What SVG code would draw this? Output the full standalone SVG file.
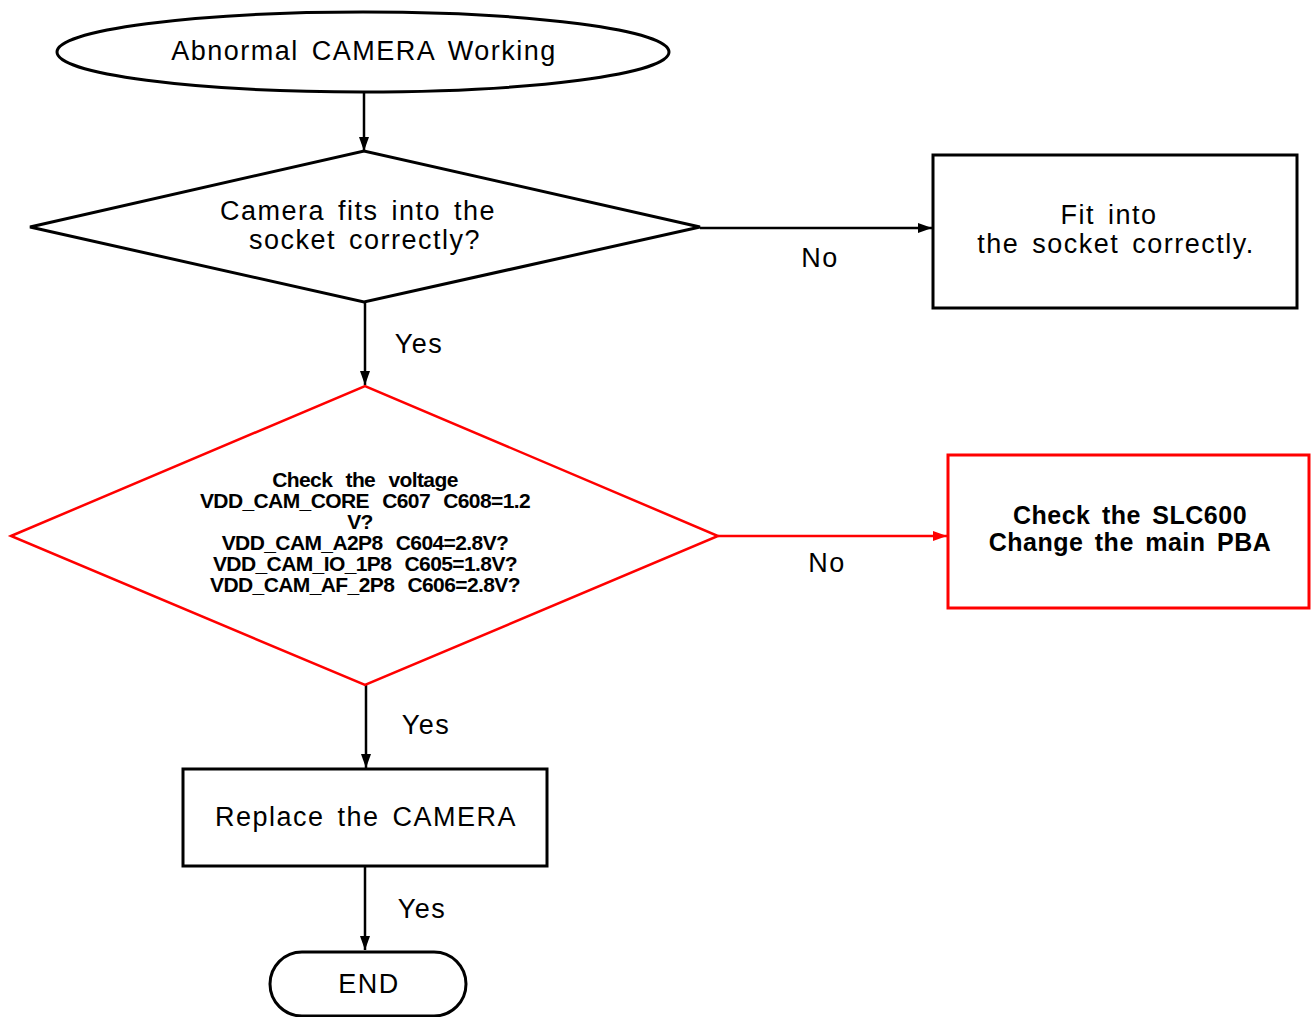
<svg xmlns="http://www.w3.org/2000/svg" width="1311" height="1017" viewBox="0 0 1311 1017">
<defs>
<marker id="ab" viewBox="0 0 14 10" refX="14" refY="5" markerWidth="14" markerHeight="10" markerUnits="userSpaceOnUse" orient="auto"><path d="M0,0 L14,5 L0,10 z" fill="#000"/></marker>
<marker id="ar" viewBox="0 0 14 10" refX="14" refY="5" markerWidth="14" markerHeight="10" markerUnits="userSpaceOnUse" orient="auto"><path d="M0,0 L14,5 L0,10 z" fill="#f00"/></marker>
<style>
text{font-family:"Liberation Sans",Arial,sans-serif;fill:#000;text-anchor:middle}
.t{font-size:27px;letter-spacing:1.5px;word-spacing:4px}
.b{font-size:21px;font-weight:bold;letter-spacing:-0.6px;word-spacing:8px}
.rb{font-size:25px;font-weight:bold;letter-spacing:0.5px;word-spacing:4px}
.k{fill:#fff;stroke:#000;stroke-width:3}
.r{fill:#fff;stroke:#f00;stroke-width:2.5}
.c{stroke:#000;stroke-width:2.5;fill:none}
.cr{stroke:#f00;stroke-width:2.5;fill:none}
</style>
</defs>
<rect width="1311" height="1017" fill="#fff"/>
<g id="connectors">
<line class="c" x1="364" y1="88" x2="364" y2="151" marker-end="url(#ab)"/>
<line class="c" x1="700" y1="228" x2="932" y2="228" marker-end="url(#ab)"/>
<line class="c" x1="365" y1="302" x2="365" y2="385" marker-end="url(#ab)"/>
<line class="cr" x1="718" y1="536" x2="947" y2="536" marker-end="url(#ar)"/>
<line class="c" x1="366" y1="685" x2="366" y2="768" marker-end="url(#ab)"/>
<line class="c" x1="365" y1="866" x2="365" y2="950" marker-end="url(#ab)"/>
<text class="t" x="820" y="267">No</text>
<text class="t" x="419" y="353">Yes</text>
<text class="t" x="827" y="572">No</text>
<text class="t" x="426" y="734">Yes</text>
<text class="t" x="422" y="918">Yes</text>
</g>
<g id="start">
<ellipse class="k" cx="363" cy="52" rx="306" ry="40"/>
<text class="t" x="364" y="60">Abnormal CAMERA Working</text>
</g>
<g id="fits">
<polygon class="k" points="30,227 364,151 700,227 364,302"/>
<text class="t" x="358" y="220">Camera fits into the</text>
<text class="t" x="365" y="249">socket correctly?</text>
</g>
<g id="fit">
<rect class="k" x="933" y="155" width="364" height="153"/>
<text class="t" x="1109" y="224">Fit into</text>
<text class="t" x="1116" y="253">the socket correctly.</text>
</g>
<g id="voltage">
<polygon class="r" points="11,536 365,386 718,536 365,685"/>
<text class="b" x="365" y="487">Check the voltage</text>
<text class="b" x="365" y="508">VDD_CAM_CORE C607 C608=1.2</text>
<text class="b" x="360" y="529">V?</text>
<text class="b" x="365" y="550">VDD_CAM_A2P8 C604=2.8V?</text>
<text class="b" x="365" y="571">VDD_CAM_IO_1P8 C605=1.8V?</text>
<text class="b" x="365" y="592">VDD_CAM_AF_2P8 C606=2.8V?</text>
</g>
<g id="slc">
<rect x="948" y="455" width="361" height="153" fill="#fff" stroke="#f00" stroke-width="3"/>
<text class="rb" x="1130" y="524">Check the SLC600</text>
<text class="rb" x="1130" y="551">Change the main PBA</text>
</g>
<g id="replace">
<rect class="k" x="183" y="769" width="364" height="97"/>
<text class="t" x="366" y="826">Replace the CAMERA</text>
</g>
<g id="end">
<rect class="k" x="270" y="952" width="196" height="64" rx="32" ry="32"/>
<text class="t" x="369" y="993">END</text>
</g>
</svg>
